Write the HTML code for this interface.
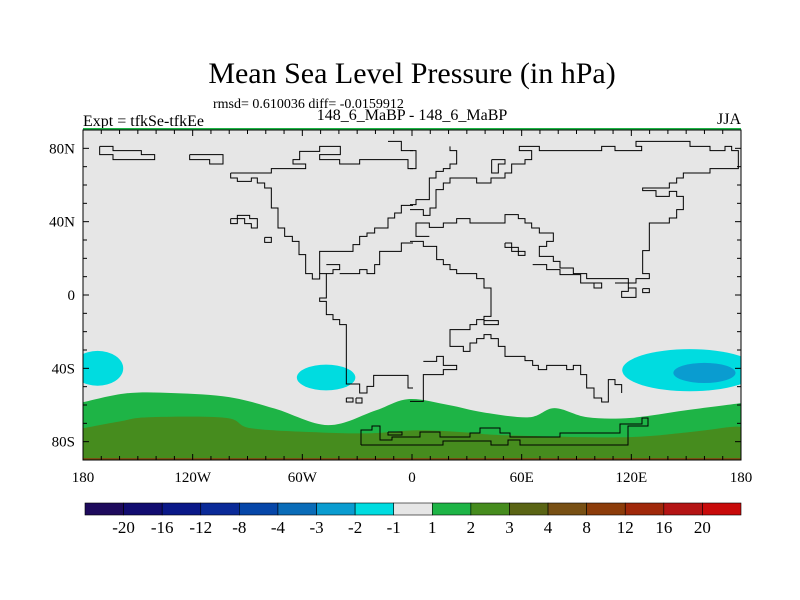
<!DOCTYPE html>
<html><head><meta charset="utf-8"><style>
body{margin:0;background:#fff;}
svg{display:block;font-family:"Liberation Serif",serif;}
</style></head><body>
<svg id="chart" width="800" height="600" viewBox="0 0 800 600">
<text x="412" y="83" text-anchor="middle" font-size="30">Mean Sea Level Pressure (in hPa)</text>
<text x="213" y="108" font-size="14">rmsd= 0.610036 diff= -0.0159912</text>
<text x="83" y="126" font-size="16">Expt = tfkSe-tfkEe</text>
<text x="412" y="120" text-anchor="middle" font-size="16">148_6_MaBP - 148_6_MaBP</text>
<text x="741" y="124" text-anchor="end" font-size="16">JJA</text>
<g id="map"></g>
<g id="coast" fill="none" stroke="#000" stroke-width="1"></g>
<g id="axes"></g>
<g id="cbar"></g>
</svg>
<script>
const levels = ["-20","-16","-12","-8","-4","-3","-2","-1","1","2","3","4","8","12","16","20"];
const colors = ["#1e0a5c","#120c70","#0a1888","#0a2a98","#0646a8","#0a6cb8","#0a9cd0","#00dce0","#e6e6e6","#1eb446","#468c1e","#5a6414","#785014","#8c3c0a","#a0280a","#b41414","#c80a0a"];
const greenLon = [-180,-156,-130,-100,-75,-46,-20,-2,20,39,64,78,96,120,149,180];
const greenLat = [-58.5,-53.6,-53.5,-55.7,-62,-71,-63,-56.8,-60,-64,-66.7,-61.7,-66.7,-67,-63,-59];
const oliveLon = [-180,-160,-144,-102,-88,-50,-22,3,30,51,115,150,174,180];
const oliveLat = [-72.7,-69,-66.7,-67,-72.7,-75,-75.4,-73.8,-75,-76.5,-77.6,-75,-72,-72];
const blobLon = [-172,-47,152,160];
const blobLat = [-40,-45,-41,-42.5];
const blobRLon = [14,16,37,17];
const blobRLat = [9.5,7,11.5,5.5];
const blobLevel = [7,7,7,6];
const xTicks = [-180,-120,-60,0,60,120,180];
const xTickLabels = ["180","120W","60W","0","60E","120E","180"];
const yTicks = [80,40,0,-40,-80];
const yTickLabels = ["80N","40N","0","40S","80S"];

const NS="http://www.w3.org/2000/svg";
const X0=83,X1=741,Y0=130,Y1=460;
const x=lon=>X0+(lon+180)/360*(X1-X0);
const y=lat=>Y0+(90-lat)/180*(Y1-Y0);
function mk(tag,attrs,parent){const e=document.createElementNS(NS,tag);for(const k in attrs)e.setAttribute(k,attrs[k]);parent.appendChild(e);return e;}
const map=document.getElementById('map');
let r=mk('rect',{x:X0,y:Y0,width:X1-X0,height:Y1-Y0,fill:'#e6e6e6'},map);


function band(lons,lats,fill,name){
  const P=lons.map((l,i)=>[x(l),y(lats[i])]);
  let d=`M${P[0][0]},${y(-90)} L${P[0][0]},${P[0][1]}`;
  for(let i=0;i<P.length-1;i++){
    const p0=P[Math.max(0,i-1)],p1=P[i],p2=P[i+1],p3=P[Math.min(P.length-1,i+2)];
    const c1=[p1[0]+(p2[0]-p0[0])/6,p1[1]+(p2[1]-p0[1])/6];
    const c2=[p2[0]-(p3[0]-p1[0])/6,p2[1]-(p3[1]-p1[1])/6];
    d+=` C${c1[0]},${c1[1]} ${c2[0]},${c2[1]} ${p2[0]},${p2[1]}`;
  }
  d+=` L${P[P.length-1][0]},${y(-90)} Z`;
  const p=mk('path',{d:d,fill:fill},map);
  
  
}
band(greenLon,greenLat,colors[9],'contour-1-to-2');
band(oliveLon,oliveLat,colors[10],'contour-2-to-3');
const cp=mk('clipPath',{id:'clip'},map);mk('rect',{x:X0,y:Y0,width:X1-X0,height:Y1-Y0},cp);
blobLon.forEach((l,i)=>{
  const e=mk('ellipse',{cx:x(l),cy:y(blobLat[i]),rx:blobRLon[i]*(X1-X0)/360,ry:blobRLat[i]*(Y1-Y0)/180,fill:colors[blobLevel[i]],'clip-path':'url(#clip)'},map);
  
  
});
let s=mk('rect',{x:X0,y:Y0-2,width:X1-X0,height:2.5,fill:colors[9]},map);


s=mk('rect',{x:X0,y:Y1-2,width:X1-X0,height:2,fill:'#785014'},map);



const coast=document.getElementById('coast');
const z3=pts=>pts.map(p=>[83+p[0]/3,128+p[1]/3]);
const z4=pts=>pts.map(p=>[410+p[0]/3,128+p[1]/3]);
const lines=[
 z3([[443,135],[443,150],[463,150],[463,160],[505,160],[505,150],[523,150],[523,165],[545,165],[545,180],[565,180],[565,240],[585,240],[585,300],[605,300],[605,325],[628,325],[628,340],[648,340],[648,380],[668,380],[668,437],[688,437],[688,453],[710,453],[710,437],[730,437],[730,510],[710,510],[710,520],[730,520],[730,560],[750,560],[750,575],[770,575],[770,590],[790,590],[790,768],[830,768],[830,795],[852,795],[852,775],[872,775],[872,742],[975,742],[975,780],[990,780]]),
 z3([[443,135],[565,135],[565,122],[668,122],[668,108],[630,108],[630,95],[650,95],[650,70],[710,70],[710,55],[772,55],[772,80],[710,80],[710,95],[770,95],[770,108],[830,108],[830,95],[975,95],[975,122],[990,122]]),
 z3([[710,437],[710,370],[810,370],[810,350],[830,350],[830,325],[852,325],[852,315],[875,315],[875,300],[915,300],[915,270],[935,270],[935,255],[955,255],[955,232],[990,232]]),
 z3([[730,437],[750,437],[750,425],[770,425],[770,410],[730,410]]),
 z3([[770,437],[830,437],[830,425],[852,425],[852,437],[875,437],[875,410],[890,410],[890,370],[955,370],[955,345],[990,345]]),
 z3([[50,55],[90,55],[90,68],[175,68],[175,80],[215,80],[215,95],[90,95],[90,80],[50,80],[50,55]]),
 z3([[320,80],[420,80],[420,108],[380,108],[380,95],[320,95],[320,80]]),
 z3([[915,40],[955,40],[955,68],[990,68]]),
 z3([[443,272],[463,272],[463,262],[500,262],[500,272],[523,272],[523,300],[505,300],[505,287],[485,287],[485,272],[463,272],[463,287],[443,287],[443,272]]),
 z3([[545,328],[565,328],[565,343],[545,343],[545,328]]),
 z3([[790,810],[810,810],[810,822],[790,822],[790,810]]),
 z4([[0,68],[18,68],[18,122],[0,122]]),
 z4([[0,230],[18,230],[18,215],[58,215],[58,150],[78,150],[78,130],[100,130],[100,122],[120,122],[120,108],[140,108],[140,68],[120,68],[120,55]]),
 z4([[0,245],[40,245],[40,262],[60,262],[60,240],[78,240],[78,185],[100,185],[100,165],[120,165],[120,150],[200,150],[200,165],[243,165],[243,150],[285,150],[285,135],[305,135],[305,108],[345,108],[345,95],[365,95],[365,68],[328,68],[328,55],[388,55],[388,68],[575,68],[575,55],[615,55],[615,68],[695,68],[695,55],[678,55],[678,40],[840,40],[840,55],[900,55],[900,68],[945,68],[945,55],[965,55],[965,68],[985,68],[985,122],[900,122],[900,135],[820,135],[820,150],[800,150],[800,165],[778,165],[778,180],[698,180],[698,188],[738,188],[738,205],[778,205],[778,190],[800,190],[800,205],[820,205],[820,245],[800,245],[800,270],[778,270],[778,285],[718,285],[718,368],[698,368],[698,437],[718,437],[718,452],[678,452],[678,465],[655,465],[655,452],[530,452],[530,437],[490,437],[490,420],[450,420],[450,400],[430,400],[430,385],[388,385],[388,355],[410,355],[410,340],[430,340],[430,315],[388,315],[388,300],[365,300],[365,285],[345,285],[345,272],[325,272],[325,260],[285,260],[285,285],[180,285],[180,272],[140,272],[140,285],[100,285],[100,298],[58,298],[58,285],[18,285],[18,325],[58,325]]),
 z4([[0,340],[40,340],[40,355],[80,355],[80,395],[100,395],[100,410],[120,410],[120,425],[140,425],[140,437],[200,437],[200,452],[222,452],[222,480],[243,480],[243,565],[222,565],[222,590],[265,590],[265,578],[222,578],[222,575],[200,575],[200,590],[180,590],[180,605],[120,605],[120,655],[160,655],[160,670],[180,670],[180,645],[200,645],[200,632],[222,632],[222,620],[243,620],[243,632],[265,632],[265,655],[285,655],[285,685],[345,685],[345,698],[368,698],[368,712],[385,712],[385,725],[410,725],[410,712],[470,712],[470,725],[490,725],[490,712],[512,712],[512,740],[530,740],[530,780],[552,780],[552,810],[575,810],[575,822],[595,822],[595,755],[615,755],[615,770],[635,770],[635,795]]),
 z4([[368,410],[410,410],[410,425],[450,425],[450,440],[512,440],[512,465],[552,465],[552,480],[575,480],[575,465],[552,465]]),
 z4([[285,345],[305,345],[305,358],[325,358],[325,370],[345,370],[345,382],[325,382],[325,370],[305,370],[305,358],[285,358],[285,345]]),
 z4([[615,465],[655,465],[655,490],[635,490],[635,508],[678,508],[678,480],[655,480]]),
 z4([[698,482],[718,482],[718,494],[698,494],[698,482]]),
 z4([[245,95],[285,95],[285,108],[265,108],[265,135],[245,135],[245,95]]),
 z4([[40,700],[80,700],[80,685],[100,685],[100,712],[140,712],[140,725],[100,725],[100,740],[40,740],[40,780],[40,820],[0,820]]),
 [[361,445],[361,430],[372,430],[372,426],[380,426],[380,440],[392,440],[392,437],[420,437],[420,432],[440,432],[440,437],[470,437],[470,433],[480,433],[480,428],[500,428],[500,433],[510,433],[510,437],[560,437],[560,433],[620,433],[620,424],[642,424],[642,418],[648,418],[648,426],[628,426],[628,437],[628,445],[520,445],[520,440],[508,440],[508,445],[491,445],[491,441],[443,441],[443,445],[361,445]],
 [[388,432],[402,432],[402,435],[388,435],[388,432]],
 [[356,398],[362,398],[362,403],[356,403],[356,398]]
];
lines.forEach(pts=>{
  const p=mk('polyline',{points:pts.map(q=>q.join(',')).join(' ')},coast);
  
  
});

const ax=document.getElementById('axes');
const f=mk('rect',{x:X0,y:Y0,width:X1-X0,height:Y1-Y0,fill:'none',stroke:'#000','stroke-width':1},ax);


for(let lon=-180;lon<=180;lon+=10){
  const len=(lon%60===0)?6:4;
  mk('line',{x1:x(lon),x2:x(lon),y1:Y1,y2:Y1-len,stroke:'#000'},ax);
  mk('line',{x1:x(lon),x2:x(lon),y1:Y0,y2:Y0+len,stroke:'#000'},ax);
}
for(let lat=-90;lat<=90;lat+=10){
  const len=(lat%40===0)?6:4;
  mk('line',{x1:X0,x2:X0+len,y1:y(lat),y2:y(lat),stroke:'#000'},ax);
  mk('line',{x1:X1,x2:X1-len,y1:y(lat),y2:y(lat),stroke:'#000'},ax);
}
xTicks.forEach((v,i)=>{
  const t=mk('text',{x:x(v),y:Y1+22,'text-anchor':'middle','font-size':15},ax);
  t.textContent=xTickLabels[i];
  
  
});
yTicks.forEach((v,i)=>{
  const t=mk('text',{x:X0-8,y:y(v)+5,'text-anchor':'end','font-size':15},ax);
  t.textContent=yTickLabels[i];
  
  
});

const cb=document.getElementById('cbar');
const CX0=85,CX1=741,CY=503,CH=12,bw=(CX1-CX0)/colors.length;
colors.forEach((c,i)=>{
  const b=mk('rect',{x:CX0+i*bw,y:CY,width:bw,height:CH,fill:c,stroke:'#000','stroke-width':0.6},cb);
  
  
});
levels.forEach((l,i)=>{
  const t=mk('text',{x:CX0+(i+1)*bw,y:533,'text-anchor':'middle','font-size':17},cb);
  t.textContent=l;
  
  
});
</script>
</body></html>
